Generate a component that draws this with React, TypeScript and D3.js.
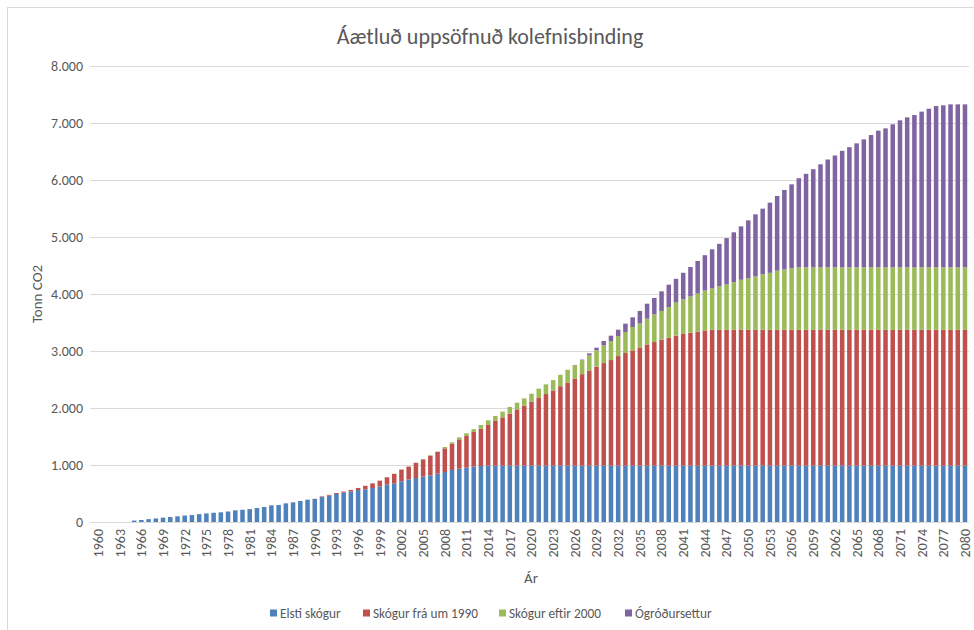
import React, { useEffect, useRef } from 'react';
import * as d3 from 'd3';

// Year categories 1960..2080
const years: string[] = d3.range(1960, 2081).map(String);

const seriesNames = ['Elsti skógur', 'Skógur frá um 1990', 'Skógur eftir 2000', 'Ógróðursettur'];
const seriesColors = ['#4F81BD', '#C0504D', '#9BBB59', '#8064A2'];

const elstiSkogur = [
  0, 0, 0, 0, 0, 25, 35, 50, 62, 76,
  88, 100, 114, 122, 138, 150, 162, 170, 184, 205,
  215, 226, 246, 263, 292, 298, 327, 345, 368, 392,
  404, 439, 462, 491, 515, 538, 561, 573, 596, 620,
  655, 678, 715, 745, 772, 795, 819, 848, 877, 912,
  936, 953, 971, 982, 990, 990, 990, 990, 990, 990,
  990, 990, 990, 990, 990, 990, 990, 990, 990, 990,
  990, 990, 990, 990, 990, 990, 990, 990, 990, 990,
  990, 990, 990, 990, 990, 990, 990, 990, 990, 990,
  990, 990, 990, 990, 990, 990, 990, 990, 990, 990,
  990, 990, 990, 990, 990, 990, 990, 990, 990, 990,
  990, 990, 990, 990, 990, 990, 990, 990, 990, 990,
  990,
];

const skogur1990 = [
  0, 0, 0, 0, 0, 0, 0, 0, 0, 0,
  0, 0, 0, 0, 0, 0, 0, 0, 0, 0,
  0, 0, 0, 0, 0, 0, 0, 0, 0, 0,
  3, 10, 15, 18, 20, 25, 35, 62, 82, 105,
  130, 165, 203, 226, 263, 304, 345, 380, 415, 462,
  514, 556, 608, 655, 712, 782, 846, 911, 987, 1051,
  1121, 1185, 1255, 1317, 1393, 1458, 1528, 1604, 1669, 1733,
  1798, 1851, 1921, 1974, 2021, 2073, 2126, 2167, 2208, 2243,
  2279, 2310, 2331, 2349, 2372, 2382, 2382, 2382, 2382, 2382,
  2382, 2382, 2382, 2382, 2382, 2382, 2382, 2382, 2382, 2382,
  2382, 2382, 2382, 2382, 2382, 2382, 2382, 2382, 2382, 2382,
  2382, 2382, 2382, 2382, 2382, 2382, 2382, 2382, 2382, 2382,
  2382,
];

const skogur2000 = [
  0, 0, 0, 0, 0, 0, 0, 0, 0, 0,
  0, 0, 0, 0, 0, 0, 0, 0, 0, 0,
  0, 0, 0, 0, 0, 0, 0, 0, 0, 0,
  0, 0, 0, 0, 0, 0, 0, 0, 0, 0,
  2, 5, 5, 6, 6, 6, 7, 8, 24, 24,
  35, 48, 50, 65, 82, 88, 100, 117, 117, 128,
  140, 164, 170, 182, 200, 223, 235, 247, 264, 288,
  311, 334, 346, 369, 410, 420, 451, 486, 504, 537,
  581, 607, 635, 667, 699, 725, 765, 795, 836, 878,
  906, 938, 973, 999, 1037, 1058, 1084, 1096, 1096, 1096,
  1096, 1096, 1096, 1096, 1096, 1096, 1096, 1096, 1096, 1096,
  1096, 1096, 1096, 1096, 1096, 1096, 1096, 1096, 1096, 1096,
  1096,
];

const ogrodursettur = [
  0, 0, 0, 0, 0, 0, 0, 0, 0, 0,
  0, 0, 0, 0, 0, 0, 0, 0, 0, 0,
  0, 0, 0, 0, 0, 0, 0, 0, 0, 0,
  0, 0, 0, 0, 0, 0, 0, 0, 0, 0,
  0, 0, 0, 0, 0, 0, 0, 0, 0, 0,
  0, 0, 0, 0, 0, 0, 0, 0, 0, 0,
  0, 0, 0, 0, 0, 0, 2, 8, 35, 47,
  76, 94, 117, 147, 170, 220, 263, 287, 345, 394,
  417, 465, 518, 573, 620, 687, 743, 813, 874, 937,
  1014, 1088, 1152, 1231, 1310, 1395, 1468, 1564, 1640, 1722,
  1807, 1892, 1962, 2044, 2108, 2175, 2245, 2321, 2398, 2438,
  2509, 2579, 2631, 2672, 2731, 2783, 2830, 2842, 2859, 2859,
  2859,
];

const yTicks = [0, 1000, 2000, 3000, 4000, 5000, 6000, 7000, 8000];

const FONT = 'Carlito, Calibri, Lato, sans-serif';
const TEXT = '#595959';

export default function App() {
  const ref = useRef<HTMLDivElement>(null);

  useEffect(() => {
    const W = 974;
    const H = 630;
    d3.select(ref.current).select('svg').remove();

    const svg = d3
      .select(ref.current)
      .append('svg')
      .attr('width', W)
      .attr('height', H)
      .style('position', 'absolute')
      .style('left', '0px')
      .style('top', '0px')
      .style('background', '#fff')
      .style('font-family', FONT);

    // chart frame
    svg
      .append('rect')
      .attr('x', 7.5)
      .attr('y', 7.5)
      .attr('width', W + 20)
      .attr('height', H + 20)
      .attr('fill', 'none')
      .attr('stroke', '#D9D9D9');

    const x = d3
      .scaleBand()
      .domain(years)
      .range([94.4, 968.6])
      .paddingInner(0.375)
      .paddingOuter(0.1875);

    const y = d3.scaleLinear().domain([0, 8000]).range([522, 66]);

    const loc = d3.formatLocale({ decimal: ',', thousands: '.', grouping: [3], currency: ['', ''] });
    const fmt = loc.format(',d');

    // gridlines
    svg
      .append('g')
      .selectAll('line')
      .data(yTicks)
      .join('line')
      .attr('x1', 90)
      .attr('x2', 969)
      .attr('y1', d => Math.round(y(d)) + 0.5)
      .attr('y2', d => Math.round(y(d)) + 0.5)
      .attr('stroke', '#D9D9D9')
      .attr('stroke-width', 1);

    // y tick labels
    svg
      .append('g')
      .selectAll('text')
      .data(yTicks)
      .join('text')
      .attr('x', 83)
      .attr('y', d => y(d))
      .attr('dy', '0.35em')
      .attr('text-anchor', 'end')
      .attr('font-size', 14)
      .attr('fill', TEXT)
      .text(d => fmt(d));

    // stacked bars
    const rows = years.map((yr, i) => ({
      year: yr,
      s0: elstiSkogur[i],
      s1: skogur1990[i],
      s2: skogur2000[i],
      s3: ogrodursettur[i],
    }));
    const stacked = d3.stack<any>().keys(['s0', 's1', 's2', 's3'])(rows);

    svg
      .append('g')
      .selectAll('g')
      .data(stacked)
      .join('g')
      .attr('fill', (d, i) => seriesColors[i])
      .selectAll('rect')
      .data(d => d)
      .join('rect')
      .attr('x', d => x(d.data.year) as number)
      .attr('width', x.bandwidth())
      .attr('y', d => y(d[1]))
      .attr('height', d => Math.max(0, y(d[0]) - y(d[1])));

    // x tick labels, every 3rd year
    const tickYears = years.filter((d, i) => i % 3 === 0);
    svg
      .append('g')
      .selectAll('text')
      .data(tickYears)
      .join('text')
      .attr(
        'transform',
        d => `translate(${(x(d) as number) + x.bandwidth() / 2},529) rotate(-90)`
      )
      .attr('dy', '0.35em')
      .attr('text-anchor', 'end')
      .attr('font-size', 14)
      .attr('fill', TEXT)
      .text(d => d);

    // title
    svg
      .append('text')
      .attr('x', 490)
      .attr('y', 36)
      .attr('dy', '0.35em')
      .attr('text-anchor', 'middle')
      .attr('font-size', 22)
      .attr('fill', TEXT)
      .text('Áætluð uppsöfnuð kolefnisbinding');

    // axis titles
    svg
      .append('text')
      .attr('transform', 'translate(37,294) rotate(-90)')
      .attr('dy', '0.35em')
      .attr('text-anchor', 'middle')
      .attr('font-size', 15)
      .attr('fill', TEXT)
      .text('Tonn CO2');

    svg
      .append('text')
      .attr('x', 531)
      .attr('y', 578)
      .attr('dy', '0.35em')
      .attr('text-anchor', 'middle')
      .attr('font-size', 15)
      .attr('fill', TEXT)
      .text('Ár');

    // legend
    const legendX = [270, 363, 499, 625];
    const legend = svg
      .append('g')
      .selectAll('g')
      .data(seriesNames)
      .join('g')
      .attr('transform', (d, i) => `translate(${legendX[i]},613)`);
    legend
      .append('rect')
      .attr('x', 0)
      .attr('y', -3.5)
      .attr('width', 7)
      .attr('height', 7)
      .attr('fill', (d, i) => seriesColors[i]);
    legend
      .append('text')
      .attr('x', 10)
      .attr('dy', '0.35em')
      .attr('font-size', 13.3)
      .attr('fill', TEXT)
      .text(d => d);
  }, []);

  return <div ref={ref}></div>;
}
